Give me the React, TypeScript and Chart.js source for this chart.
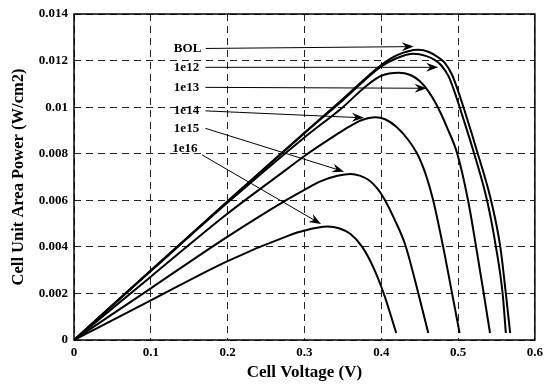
import React, { useEffect, useRef } from "react";
import { Chart, registerables } from "chart.js";

Chart.register(...registerables);

const FONT = '"Liberation Serif", "Times New Roman", serif';

// Fluence levels (BOL = beginning of life)
const seriesNames = ["BOL", "1e12", "1e13", "1e14", "1e15", "1e16"];

// Cell voltage (V) and power per unit area (W/cm2) for each curve
const bolVoltage = [0, 0.1, 0.2, 0.3, 0.35, 0.4, 0.42, 0.448, 0.462, 0.475, 0.4827, 0.492, 0.5, 0.508, 0.5257, 0.5429, 0.555, 0.5622, 0.5678];
const bolPower = [0, 0.00298, 0.00596, 0.0089, 0.01035, 0.01181, 0.01222, 0.01246, 0.01237, 0.01212, 0.0119, 0.0114, 0.0107, 0.0099, 0.008, 0.006, 0.004, 0.002, 0.0003];

const e12Voltage = [0, 0.1, 0.2, 0.3, 0.35, 0.4, 0.42, 0.442, 0.458, 0.47, 0.478, 0.488, 0.496, 0.503, 0.521, 0.5377, 0.5493, 0.558, 0.5622];
const e12Power = [0, 0.00298, 0.00595, 0.00888, 0.0103, 0.01175, 0.0121, 0.01229, 0.0122, 0.01202, 0.0118, 0.0113, 0.0106, 0.0099, 0.008, 0.006, 0.004, 0.002, 0.0003];

const e13Voltage = [0, 0.1, 0.2, 0.3, 0.35, 0.38, 0.4, 0.4225, 0.438, 0.45, 0.461, 0.472, 0.486, 0.499, 0.513, 0.5235, 0.5334, 0.5416];
const e13Power = [0, 0.00296, 0.0059, 0.0087, 0.01, 0.0109, 0.01135, 0.01148, 0.01138, 0.01112, 0.0107, 0.0101, 0.0091, 0.008, 0.006, 0.004, 0.002, 0.0003];

const e14Voltage = [0, 0.1, 0.2, 0.2785, 0.3, 0.343, 0.36, 0.375, 0.3924, 0.405, 0.42, 0.435, 0.4483, 0.459, 0.4676, 0.4806, 0.4922, 0.502];
const e14Power = [0, 0.00272, 0.00543, 0.00737, 0.0079, 0.00885, 0.0092, 0.00945, 0.00957, 0.00948, 0.00915, 0.0086, 0.0079, 0.007, 0.006, 0.004, 0.002, 0.0003];

const e15Voltage = [0, 0.1, 0.2, 0.2785, 0.3, 0.3215, 0.343, 0.3602, 0.372, 0.385, 0.395, 0.4032, 0.417, 0.4311, 0.4483, 0.4612];
const e15Power = [0, 0.00222, 0.00444, 0.00605, 0.00645, 0.00682, 0.00705, 0.00713, 0.00706, 0.00684, 0.0065, 0.0061, 0.0052, 0.0041, 0.002, 0.0003];

const e16Voltage = [0, 0.1, 0.2, 0.2785, 0.3, 0.3302, 0.345, 0.36, 0.3752, 0.39, 0.4032, 0.4195];
const e16Power = [0, 0.0017, 0.00339, 0.00447, 0.0047, 0.00487, 0.0048, 0.00455, 0.004, 0.0031, 0.002, 0.0003];

const voltages = [bolVoltage, e12Voltage, e13Voltage, e14Voltage, e15Voltage, e16Voltage];
const powers = [bolPower, e12Power, e13Power, e14Power, e15Power, e16Power];

// Curve labels and their pointer arrows, in axis units
const labelVoltage = [0.13, 0.13, 0.13, 0.13, 0.13, 0.128];
const labelPower = [0.0125, 0.01171, 0.01084, 0.00985, 0.00909, 0.00823];
const arrowFromVoltage = [0.1715, 0.1711, 0.1711, 0.1711, 0.1711, 0.1667];
const arrowFromPower = [0.01252, 0.01171, 0.01085, 0.00984, 0.00909, 0.00795];
const arrowToVoltage = [0.4423, 0.4741, 0.4591, 0.3774, 0.3516, 0.3215];
const arrowToPower = [0.0126, 0.01171, 0.01081, 0.00954, 0.00723, 0.00498];

const fmt = (v: number, digits: number) => String(Number(v.toFixed(digits)));

const curveLabels = {
  id: "curveLabels",
  afterDatasetsDraw(chart: any) {
    const { ctx, chartArea } = chart;
    const xs = chart.scales.x;
    const ys = chart.scales.y;
    ctx.save();
    ctx.strokeStyle = "#000";
    ctx.fillStyle = "#000";
    seriesNames.forEach((name, i) => {
      const x0 = xs.getPixelForValue(arrowFromVoltage[i]);
      const y0 = ys.getPixelForValue(arrowFromPower[i]);
      const x1 = xs.getPixelForValue(arrowToVoltage[i]);
      const y1 = ys.getPixelForValue(arrowToPower[i]);
      const ang = Math.atan2(y1 - y0, x1 - x0);
      ctx.lineWidth = 1;
      ctx.beginPath();
      ctx.moveTo(x0, y0);
      ctx.lineTo(x1 - 6 * Math.cos(ang), y1 - 6 * Math.sin(ang));
      ctx.stroke();
      ctx.save();
      ctx.translate(x1, y1);
      ctx.rotate(ang);
      ctx.beginPath();
      ctx.moveTo(0, 0);
      ctx.lineTo(-12, -4.5);
      ctx.lineTo(-8, 0);
      ctx.lineTo(-12, 4.5);
      ctx.closePath();
      ctx.fill();
      ctx.restore();
      ctx.font = `bold 13px ${FONT}`;
      ctx.textAlign = "left";
      ctx.textBaseline = "middle";
      ctx.fillText(name, xs.getPixelForValue(labelVoltage[i]), ys.getPixelForValue(labelPower[i]));
    });
    ctx.lineWidth = 1.5;
    ctx.strokeRect(chartArea.left, chartArea.top, chartArea.right - chartArea.left, chartArea.bottom - chartArea.top);
    ctx.restore();
  },
};

export default function App() {
  const canvasRef = useRef<HTMLCanvasElement | null>(null);

  useEffect(() => {
    const canvas = canvasRef.current;
    if (!canvas) return;
    const datasets = seriesNames.map((name, i) => ({
      label: name,
      data: voltages[i].map((v, j) => ({ x: v, y: powers[i][j] })),
      borderColor: "#000",
      backgroundColor: "#000",
      borderWidth: 2,
      pointRadius: 0,
      fill: false,
      cubicInterpolationMode: "monotone" as const,
    }));
    const chart = new Chart(canvas, {
      type: "line",
      data: { datasets },
      options: {
        animation: false,
        responsive: false,
        devicePixelRatio: 1,
        layout: { padding: { top: 14, right: 9, left: 0, bottom: 0 } },
        plugins: { legend: { display: false }, tooltip: { enabled: false } },
        scales: {
          x: {
            type: "linear",
            min: 0,
            max: 0.6,
            afterFit: (s: any) => {
              s.height = 45;
            },
            ticks: {
              stepSize: 0.1,
              color: "#000",
              padding: 5,
              font: { family: FONT, size: 13, weight: "bold" },
              callback: (v: any) => fmt(Number(v), 1),
            },
            grid: { color: "#222", lineWidth: 1, drawTicks: false },
            border: { display: false, dash: [7, 5] },
            title: {
              display: true,
              text: "Cell Voltage (V)",
              color: "#000",
              font: { family: FONT, size: 17, weight: "bold" },
              padding: { top: 0, bottom: 2 },
            },
          },
          y: {
            type: "linear",
            min: 0,
            max: 0.014,
            afterFit: (s: any) => {
              s.width = 74;
            },
            ticks: {
              stepSize: 0.002,
              color: "#000",
              padding: 6,
              font: { family: FONT, size: 13, weight: "bold" },
              callback: (v: any) => fmt(Number(v), 3),
            },
            grid: { color: "#222", lineWidth: 1, drawTicks: false },
            border: { display: false, dash: [7, 5] },
            title: {
              display: true,
              text: "Cell Unit Area Power (W/cm2)",
              color: "#000",
              font: { family: FONT, size: 16.5, weight: "bold" },
              padding: { top: 9, bottom: 0 },
            },
          },
        },
      },
      plugins: [curveLabels],
    });
    return () => chart.destroy();
  }, []);

  return (
    <div style={{ position: "fixed", left: 0, top: 0, width: 548, height: 385, background: "#fff" }}>
      <canvas ref={canvasRef} width={548} height={385} />
    </div>
  );
}
